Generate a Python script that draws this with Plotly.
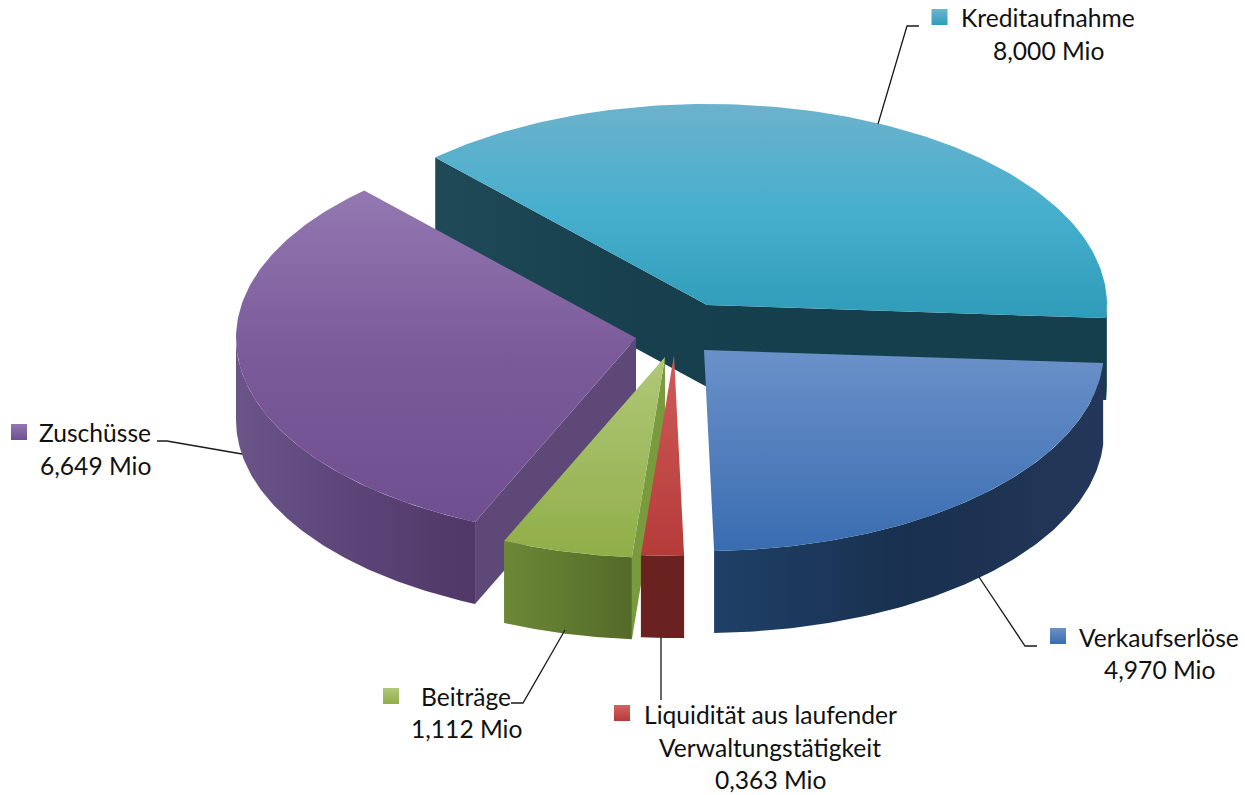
import numpy as np
import plotly.graph_objects as go

# --- data -------------------------------------------------------------
names = ["Kreditaufnahme", "Verkaufserlöse", "Liquidität aus laufender Verwaltungstätigkeit", "Beiträge", "Zuschüsse"]
values = [8.000, 4.970, 0.363, 1.112, 6.649]
unit = "Mio"

# --- styling (gradient stops run bottom to top on the reversed y axis) --
top_colors = [
    [[0, "#309cb9"], [0.5, "#46afce"], [1, "#6cb2cc"]],
    [[0, "#396db0"], [1, "#6b91c9"]],
    [[0, "#b53b39"], [1, "#cf5b58"]],
    [[0, "#90ae48"], [1, "#b0c878"]],
    [[0, "#6f4f90"], [0.5, "#7b5a9a"], [1, "#9378b1"]],
]
wall_colors = [
    [[0, "#204b58"], [1, "#153f4d"]],
    [[0, "#1f4067"], [0.5, "#19304f"], [1, "#24375a"]],
    [[0, "#6a2220"], [1, "#6a2220"]],
    [[0, "#6c8836"], [1, "#536a29"]],
    [[0, "#6a5488"], [0.5, "#5c4479"], [1, "#4f3866"]],
]
kredit_cut = [[0, "#204a57"], [0.3, "#173f4d"], [1, "#153f4d"]]
cut_colors = [None, None, None, "#7a9a3e", "#5e4878"]
key_colors = [("#6cb6cf", "#2f9cba"), ("#6b91c9", "#396db0"), ("#d4635f", "#b53b39"),
              ("#b0c878", "#90ae48"), ("#9378b1", "#6f4f90")]

# --- pie geometry (pixels on the hidden axes) --------------------------
W, H = 1245, 795
RX, RY, DEPTH = 400, 201, 82
START = -132.8
apex_x = [707, 704, 674, 665, 636]
apex_y = [305, 350, 355, 357, 338]
draw_order = [0, 4, 3, 2, 1]

bounds = START + np.concatenate([[0], np.cumsum(values)]) / sum(values) * 360.0


def arc(i, a0, a1, n=120):
    t = np.radians(np.linspace(a0, a1, n))
    return apex_x[i] + RX * np.cos(t), apex_y[i] + RY * np.sin(t)


fig = go.Figure()


def poly(xs, ys, color=None, scale=None, kind="vertical"):
    kw = dict(x=list(xs), y=list(ys), mode="lines", fill="toself", line=dict(width=0),
              hoverinfo="skip", showlegend=False)
    if scale is not None:
        kw["fillgradient"] = dict(type=kind, colorscale=scale)
        kw["fillcolor"] = "rgba(0,0,0,0)"
    else:
        kw["fillcolor"] = color
    fig.add_trace(go.Scatter(**kw))


for i in draw_order:
    a0, a1 = bounds[i], bounds[i + 1]
    ax, ay = apex_x[i], apex_y[i]
    x, y = arc(i, a0, a1)
    # cut faces
    if i == 0:   # both cut faces of the back slice
        poly([x[0], ax, x[-1], x[-1], ax, x[0]],
             [y[0], ay, y[-1], y[-1] + DEPTH, ay + DEPTH, y[0] + DEPTH], scale=kredit_cut, kind="horizontal")
    elif cut_colors[i]:  # right cut face
        poly([ax, x[0], x[0], ax], [ay, y[0], y[0] + DEPTH, ay + DEPTH], color=cut_colors[i])
    # outer wall: the visible (front) part of the rim
    w0, w1 = max(a0, 0), min(a1, 180)
    if w1 > w0:
        wx, wy = arc(i, w0, w1)
        poly(np.r_[wx, wx[::-1]], np.r_[wy, wy[::-1] + DEPTH], scale=wall_colors[i], kind="horizontal")
    # top face
    poly(np.r_[ax, x], np.r_[ay, y], scale=top_colors[i], kind="vertical")


# --- labels -----------------------------------------------------------
def val_text(v):
    return f"{v:.3f}".replace(".", ",") + " " + unit


label_lines = [
    [names[0], val_text(values[0])],
    [names[1], val_text(values[1])],
    ["Liquidität aus laufender", "Verwaltungstätigkeit", val_text(values[2])],
    [names[3], val_text(values[3])],
    [names[4], val_text(values[4])],
]
label_x = [1048, 1159, 770, 466, 95]
label_y = [[17, 50], [637, 669], [714, 747, 779], [696, 728], [432, 465]]
key_x = [939.5, 1058, 622, 391, 19]
key_y = [17, 636, 713, 696, 432]
leaders = [
    "M878,124 L907,26 L919,26",
    "M979,577 L1025,646 L1037,646",
    "M661,637 L661,700",
    "M565,630 L523,703 L511,703",
    "M242,454 L167,441 L157,441",
]

annotations = []
for lines, lx, lys in zip(label_lines, label_x, label_y):
    for t, ly in zip(lines, lys):
        annotations.append(dict(x=lx, y=ly, text=t, showarrow=False, xanchor="center", yanchor="middle",
                                font=dict(family="Lato", size=24.6, color="#111111")))

for (c0, c1), kx, ky in zip(key_colors, key_x, key_y):
    fig.add_trace(go.Scatter(x=[kx], y=[ky], mode="markers", hoverinfo="skip", showlegend=False,
                             marker=dict(symbol="square", size=16, color=c0, line=dict(width=0),
                                         gradient=dict(type="vertical", color=c1))))

fig.update_layout(
    width=W, height=H, margin=dict(l=0, r=0, t=0, b=0),
    paper_bgcolor="white", plot_bgcolor="white", showlegend=False,
    xaxis=dict(range=[0, W], visible=False, fixedrange=True),
    yaxis=dict(range=[H, 0], visible=False, fixedrange=True),
    annotations=annotations,
    shapes=[dict(type="path", path=p, line=dict(color="#1a1a1a", width=1.3), layer="above") for p in leaders],
)

fig.write_html("out.html", config={"displayModeBar": False}, post_script="document.body.style.margin='0';")
